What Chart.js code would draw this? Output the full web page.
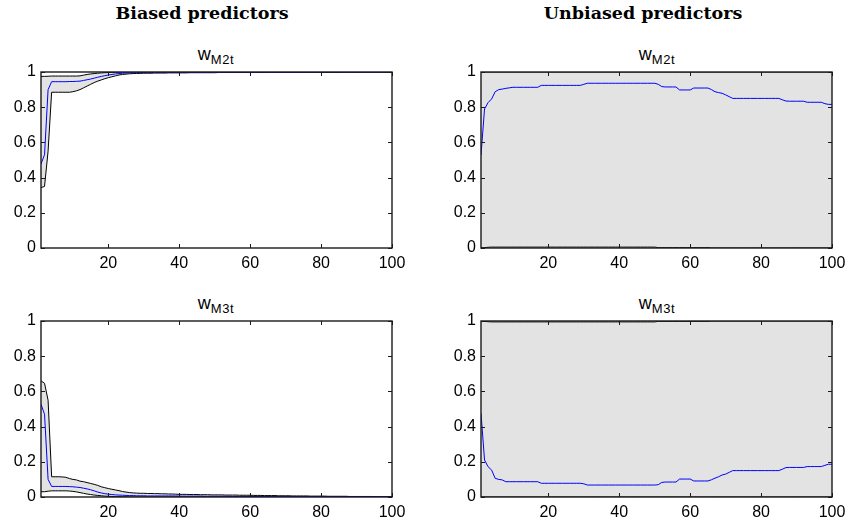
<!DOCTYPE html>
<html>
<head>
<meta charset="utf-8">
<script src="https://cdn.jsdelivr.net/npm/chart.js@4.4.1/dist/chart.umd.min.js"></script>
<style>
  body { margin: 0; background: #fff; width: 850px; height: 521px; position: relative; overflow: hidden; }
  .panel { position: absolute; width: 420px; height: 216px; }
  .suptitle { position: absolute; top: 3px; font: bold 17.5px "DejaVu Serif", serif; transform: translateX(-50%); white-space: nowrap; color: #000; }
  .ptitle { position: absolute; font: 18px "Liberation Sans", Arial, sans-serif; transform: translateX(-50%); white-space: nowrap; color: #000; line-height: 18px; }
  .ptitle sub { font-size: 13px; letter-spacing: 0.6px; position: relative; top: 4px; vertical-align: baseline; }
</style>
</head>
<body>
<div class="suptitle" style="left:202px">Biased predictors</div>
<div class="suptitle" style="left:643px">Unbiased predictors</div>

<div class="ptitle" style="left:216px; top:45px">w<sub>M2t</sub></div>
<div class="ptitle" style="left:657px; top:45px">w<sub>M2t</sub></div>
<div class="ptitle" style="left:216px; top:294px">w<sub>M3t</sub></div>
<div class="ptitle" style="left:657px; top:294px">w<sub>M3t</sub></div>

<div class="panel" style="left:0px; top:62px"><canvas id="biasM2" width="420" height="216"></canvas></div>
<div class="panel" style="left:440px; top:62px"><canvas id="unbiasM2" width="420" height="216"></canvas></div>
<div class="panel" style="left:0px; top:311px"><canvas id="biasM3" width="420" height="216"></canvas></div>
<div class="panel" style="left:440px; top:311px"><canvas id="unbiasM3" width="420" height="216"></canvas></div>

<script>
const t = Array.from({ length: 100 }, (_, i) => i + 1);
const xTicks = [20, 40, 60, 80, 100];
const yTicks = [0, 0.2, 0.4, 0.6, 0.8, 1];

// biased predictors, w_M2t
const biasM2Med = [
  0.477, 0.53, 0.90, 0.945, 0.945, 0.945, 0.945, 0.945, 0.946, 0.946,
  0.947, 0.948, 0.952, 0.956, 0.960, 0.965, 0.970, 0.975, 0.979, 0.983,
  0.986, 0.989, 0.991, 0.993, 0.994, 0.995, 0.996, 0.996, 0.997, 0.997,
  0.997, 0.997, 0.998, 0.998, 0.998, 0.998, 0.998, 0.998, 0.998, 0.998,
  0.998, 0.998, 0.998, 0.998, 0.998, 0.998, 0.998, 0.998, 0.999, 0.999,
  0.999, 0.999, 0.999, 0.999, 0.999, 0.999, 0.999, 0.999, 0.999, 0.999,
  0.999, 0.999, 0.999, 0.999, 0.999, 0.999, 0.999, 0.999, 0.999, 0.999,
  0.999, 0.999, 0.999, 0.999, 0.999, 1.0, 1.0, 1.0, 1.0, 1.0,
  1.0, 1.0, 1.0, 1.0, 1.0, 1.0, 1.0, 1.0, 1.0, 1.0,
  1.0, 1.0, 1.0, 1.0, 1.0, 1.0, 1.0, 1.0, 1.0, 1.0
];
const biasM2Hi = [
  0.975, 0.975, 0.976, 0.977, 0.977, 0.977, 0.977, 0.977, 0.977, 0.977,
  0.977, 0.978, 0.982, 0.986, 0.989, 0.991, 0.993, 0.995, 0.996, 0.997,
  0.998, 0.998, 0.999, 0.999, 0.999, 1.0, 1.0, 1.0, 1.0, 1.0,
  1.0, 1.0, 1.0, 1.0, 1.0, 1.0, 1.0, 1.0, 1.0, 1.0,
  1.0, 1.0, 1.0, 1.0, 1.0, 1.0, 1.0, 1.0, 1.0, 1.0,
  1.0, 1.0, 1.0, 1.0, 1.0, 1.0, 1.0, 1.0, 1.0, 1.0,
  1.0, 1.0, 1.0, 1.0, 1.0, 1.0, 1.0, 1.0, 1.0, 1.0,
  1.0, 1.0, 1.0, 1.0, 1.0, 1.0, 1.0, 1.0, 1.0, 1.0,
  1.0, 1.0, 1.0, 1.0, 1.0, 1.0, 1.0, 1.0, 1.0, 1.0,
  1.0, 1.0, 1.0, 1.0, 1.0, 1.0, 1.0, 1.0, 1.0, 1.0
];
const biasM2Lo = [
  0.343, 0.35, 0.55, 0.885, 0.885, 0.885, 0.885, 0.885, 0.885, 0.888,
  0.893, 0.900, 0.910, 0.920, 0.930, 0.940, 0.948, 0.955, 0.962, 0.968,
  0.973, 0.978, 0.983, 0.986, 0.988, 0.990, 0.991, 0.992, 0.992, 0.993,
  0.993, 0.993, 0.994, 0.994, 0.994, 0.994, 0.995, 0.995, 0.995, 0.995,
  0.995, 0.995, 0.996, 0.996, 0.996, 0.996, 0.996, 0.996, 0.996, 0.996,
  0.997, 0.997, 0.997, 0.997, 0.997, 0.997, 0.997, 0.997, 0.997, 0.997,
  0.997, 0.997, 0.997, 0.997, 0.997, 0.998, 0.998, 0.998, 0.998, 0.998,
  0.998, 0.998, 0.998, 0.998, 0.998, 0.998, 0.998, 0.998, 0.998, 0.998,
  0.998, 0.998, 0.998, 0.998, 0.998, 0.999, 0.999, 0.999, 0.999, 0.999,
  0.999, 0.999, 0.999, 0.999, 0.999, 0.999, 0.999, 0.999, 0.999, 0.999
];

// biased predictors, w_M3t
const biasM3Med = [
  0.527, 0.47, 0.10, 0.06, 0.06, 0.06, 0.06, 0.06, 0.059, 0.058,
  0.056, 0.054, 0.050, 0.046, 0.041, 0.035, 0.028, 0.023, 0.019, 0.016,
  0.014, 0.012, 0.011, 0.010, 0.009, 0.008, 0.008, 0.007, 0.007, 0.007,
  0.006, 0.006, 0.006, 0.006, 0.006, 0.006, 0.006, 0.006, 0.006, 0.005,
  0.005, 0.005, 0.005, 0.005, 0.005, 0.005, 0.004, 0.004, 0.004, 0.004,
  0.004, 0.004, 0.004, 0.004, 0.003, 0.003, 0.003, 0.003, 0.003, 0.003,
  0.003, 0.003, 0.003, 0.003, 0.003, 0.002, 0.002, 0.002, 0.002, 0.002,
  0.002, 0.002, 0.002, 0.002, 0.002, 0.002, 0.002, 0.002, 0.002, 0.002,
  0.001, 0.001, 0.001, 0.001, 0.001, 0.001, 0.001, 0.001, 0.001, 0.001,
  0.001, 0.001, 0.001, 0.001, 0.001, 0.001, 0.001, 0.001, 0.001, 0.001
];
const biasM3Hi = [
  0.66, 0.646, 0.55, 0.115, 0.115, 0.115, 0.114, 0.112, 0.105, 0.100,
  0.097, 0.090, 0.087, 0.082, 0.077, 0.072, 0.066, 0.058, 0.053, 0.048,
  0.044, 0.040, 0.036, 0.031, 0.028, 0.025, 0.023, 0.022, 0.021, 0.021,
  0.020, 0.020, 0.019, 0.019, 0.018, 0.018, 0.017, 0.017, 0.016, 0.015,
  0.015, 0.015, 0.014, 0.014, 0.014, 0.013, 0.013, 0.013, 0.012, 0.012,
  0.012, 0.012, 0.011, 0.011, 0.011, 0.011, 0.010, 0.010, 0.010, 0.010,
  0.009, 0.009, 0.009, 0.008, 0.008, 0.008, 0.008, 0.007, 0.007, 0.007,
  0.007, 0.006, 0.006, 0.006, 0.006, 0.006, 0.005, 0.005, 0.005, 0.005,
  0.005, 0.004, 0.004, 0.004, 0.004, 0.004, 0.004, 0.003, 0.003, 0.003,
  0.003, 0.003, 0.003, 0.003, 0.002, 0.002, 0.002, 0.002, 0.002, 0.002
];
const biasM3Lo = [
  0.03, 0.03, 0.033, 0.035, 0.035, 0.035, 0.035, 0.035, 0.034, 0.032,
  0.029, 0.025, 0.021, 0.017, 0.014, 0.011, 0.009, 0.007, 0.005, 0.004,
  0.003, 0.002, 0.002, 0.001, 0.001, 0.0, 0.0, 0.0, 0.0, 0.0,
  0.0, 0.0, 0.0, 0.0, 0.0, 0.0, 0.0, 0.0, 0.0, 0.0,
  0.0, 0.0, 0.0, 0.0, 0.0, 0.0, 0.0, 0.0, 0.0, 0.0,
  0.0, 0.0, 0.0, 0.0, 0.0, 0.0, 0.0, 0.0, 0.0, 0.0,
  0.0, 0.0, 0.0, 0.0, 0.0, 0.0, 0.0, 0.0, 0.0, 0.0,
  0.0, 0.0, 0.0, 0.0, 0.0, 0.0, 0.0, 0.0, 0.0, 0.0,
  0.0, 0.0, 0.0, 0.0, 0.0, 0.0, 0.0, 0.0, 0.0, 0.0,
  0.0, 0.0, 0.0, 0.0, 0.0, 0.0, 0.0, 0.0, 0.0, 0.0
];

// unbiased predictors, w_M2t
const unbiasM2Med = [
  0.528, 0.79, 0.826, 0.847, 0.888, 0.900, 0.903, 0.907, 0.910, 0.913,
  0.913, 0.913, 0.913, 0.913, 0.913, 0.913, 0.913, 0.924, 0.924, 0.924,
  0.924, 0.924, 0.924, 0.924, 0.924, 0.924, 0.924, 0.924, 0.924, 0.930,
  0.936, 0.936, 0.936, 0.936, 0.936, 0.936, 0.936, 0.936, 0.936, 0.936,
  0.936, 0.936, 0.936, 0.936, 0.936, 0.936, 0.936, 0.936, 0.936, 0.936,
  0.930, 0.917, 0.915, 0.915, 0.915, 0.915, 0.898, 0.898, 0.898, 0.898,
  0.909, 0.909, 0.909, 0.909, 0.909, 0.900, 0.888, 0.883, 0.879, 0.870,
  0.860, 0.850, 0.850, 0.850, 0.850, 0.850, 0.850, 0.850, 0.850, 0.850,
  0.850, 0.850, 0.850, 0.850, 0.850, 0.842, 0.835, 0.834, 0.834, 0.834,
  0.834, 0.834, 0.828, 0.828, 0.828, 0.828, 0.828, 0.820, 0.816, 0.816
];
const unbiasM2Hi = [
  1.0, 1.0, 1.0, 1.0, 1.0, 1.0, 1.0, 1.0, 1.0, 1.0,
  1.0, 1.0, 1.0, 1.0, 1.0, 1.0, 1.0, 1.0, 1.0, 1.0,
  1.0, 1.0, 1.0, 1.0, 1.0, 1.0, 1.0, 1.0, 1.0, 1.0,
  1.0, 1.0, 1.0, 1.0, 1.0, 1.0, 1.0, 1.0, 1.0, 1.0,
  1.0, 1.0, 1.0, 1.0, 1.0, 1.0, 1.0, 1.0, 1.0, 1.0,
  1.0, 1.0, 1.0, 1.0, 1.0, 1.0, 1.0, 1.0, 1.0, 1.0,
  1.0, 1.0, 1.0, 1.0, 1.0, 1.0, 1.0, 1.0, 1.0, 1.0,
  1.0, 1.0, 1.0, 1.0, 1.0, 1.0, 1.0, 1.0, 1.0, 1.0,
  1.0, 1.0, 1.0, 1.0, 1.0, 1.0, 1.0, 1.0, 1.0, 1.0,
  1.0, 1.0, 1.0, 1.0, 1.0, 1.0, 1.0, 1.0, 1.0, 1.0
];
const unbiasM2Lo = [
  0.0, 0.002, 0.004, 0.005, 0.005, 0.005, 0.005, 0.005, 0.005, 0.005,
  0.005, 0.005, 0.005, 0.005, 0.005, 0.005, 0.005, 0.005, 0.005, 0.005,
  0.005, 0.005, 0.005, 0.005, 0.005, 0.005, 0.005, 0.005, 0.005, 0.005,
  0.005, 0.005, 0.005, 0.005, 0.005, 0.005, 0.005, 0.005, 0.005, 0.005,
  0.005, 0.005, 0.005, 0.005, 0.005, 0.005, 0.005, 0.005, 0.005, 0.005,
  0.002, 0.002, 0.002, 0.002, 0.002, 0.002, 0.002, 0.002, 0.002, 0.002,
  0.002, 0.002, 0.002, 0.002, 0.002, 0.0, 0.0, 0.0, 0.0, 0.0,
  0.0, 0.0, 0.0, 0.0, 0.0, 0.0, 0.0, 0.0, 0.0, 0.0,
  0.0, 0.0, 0.0, 0.0, 0.0, 0.0, 0.0, 0.0, 0.0, 0.0,
  0.0, 0.0, 0.0, 0.0, 0.0, 0.0, 0.0, 0.0, 0.0, 0.0
];

// unbiased predictors, w_M3t
const unbiasM3Med = [
  0.475, 0.21, 0.172, 0.153, 0.106, 0.100, 0.097, 0.087, 0.087, 0.087,
  0.087, 0.087, 0.087, 0.087, 0.087, 0.087, 0.087, 0.078, 0.078, 0.078,
  0.078, 0.078, 0.078, 0.078, 0.078, 0.078, 0.078, 0.078, 0.078, 0.075,
  0.068, 0.068, 0.068, 0.068, 0.068, 0.068, 0.068, 0.068, 0.068, 0.068,
  0.068, 0.068, 0.068, 0.068, 0.068, 0.068, 0.068, 0.068, 0.068, 0.068,
  0.070, 0.083, 0.085, 0.085, 0.085, 0.085, 0.102, 0.102, 0.102, 0.102,
  0.091, 0.091, 0.091, 0.091, 0.091, 0.098, 0.107, 0.115, 0.125, 0.130,
  0.140, 0.150, 0.150, 0.150, 0.150, 0.150, 0.150, 0.150, 0.150, 0.150,
  0.150, 0.150, 0.150, 0.150, 0.150, 0.158, 0.167, 0.168, 0.168, 0.168,
  0.168, 0.168, 0.173, 0.173, 0.173, 0.173, 0.173, 0.180, 0.186, 0.186
];
const unbiasM3Hi = [
  1.0, 0.998, 0.996, 0.995, 0.995, 0.995, 0.995, 0.995, 0.995, 0.995,
  0.995, 0.995, 0.995, 0.995, 0.995, 0.995, 0.995, 0.995, 0.995, 0.995,
  0.995, 0.995, 0.995, 0.995, 0.995, 0.995, 0.995, 0.995, 0.995, 0.995,
  0.995, 0.995, 0.995, 0.995, 0.995, 0.995, 0.995, 0.995, 0.995, 0.995,
  0.995, 0.995, 0.995, 0.995, 0.995, 0.995, 0.995, 0.995, 0.995, 0.995,
  0.998, 0.998, 0.998, 0.998, 0.998, 0.998, 0.998, 0.998, 0.998, 0.998,
  0.998, 0.998, 0.998, 0.998, 0.998, 1.0, 1.0, 1.0, 1.0, 1.0,
  1.0, 1.0, 1.0, 1.0, 1.0, 1.0, 1.0, 1.0, 1.0, 1.0,
  1.0, 1.0, 1.0, 1.0, 1.0, 1.0, 1.0, 1.0, 1.0, 1.0,
  1.0, 1.0, 1.0, 1.0, 1.0, 1.0, 1.0, 1.0, 1.0, 1.0
];
const unbiasM3Lo = [
  0.0, 0.0, 0.0, 0.0, 0.0, 0.0, 0.0, 0.0, 0.0, 0.0,
  0.0, 0.0, 0.0, 0.0, 0.0, 0.0, 0.0, 0.0, 0.0, 0.0,
  0.0, 0.0, 0.0, 0.0, 0.0, 0.0, 0.0, 0.0, 0.0, 0.0,
  0.0, 0.0, 0.0, 0.0, 0.0, 0.0, 0.0, 0.0, 0.0, 0.0,
  0.0, 0.0, 0.0, 0.0, 0.0, 0.0, 0.0, 0.0, 0.0, 0.0,
  0.0, 0.0, 0.0, 0.0, 0.0, 0.0, 0.0, 0.0, 0.0, 0.0,
  0.0, 0.0, 0.0, 0.0, 0.0, 0.0, 0.0, 0.0, 0.0, 0.0,
  0.0, 0.0, 0.0, 0.0, 0.0, 0.0, 0.0, 0.0, 0.0, 0.0,
  0.0, 0.0, 0.0, 0.0, 0.0, 0.0, 0.0, 0.0, 0.0, 0.0,
  0.0, 0.0, 0.0, 0.0, 0.0, 0.0, 0.0, 0.0, 0.0, 0.0
];

const bandColor = "#e3e3e3";
const tickFont = { family: "'Liberation Sans', Arial, sans-serif", size: 16 };

// matlab-ish box around the axes with inward ticks on all four sides
const boxPlugin = {
    id: "box",
    afterDatasetsDraw(chart) {
        const { ctx, chartArea: a, scales } = chart;
        ctx.save();
        ctx.strokeStyle = "#1a1a1a";
        ctx.lineWidth = 1;
        ctx.beginPath();
        scales.x.ticks.forEach(tk => {
            const px = Math.round(scales.x.getPixelForValue(tk.value)) + 0.5;
            ctx.moveTo(px, a.bottom); ctx.lineTo(px, a.bottom - 4);
            ctx.moveTo(px, a.top); ctx.lineTo(px, a.top + 4);
        });
        scales.y.ticks.forEach(tk => {
            const py = Math.round(scales.y.getPixelForValue(tk.value)) + 0.5;
            ctx.moveTo(a.left, py); ctx.lineTo(a.left + 4, py);
            ctx.moveTo(a.right, py); ctx.lineTo(a.right - 4, py);
        });
        ctx.stroke();
        ctx.lineWidth = 1.4;
        ctx.strokeRect(a.left, a.top, a.right - a.left, a.bottom - a.top);
        ctx.restore();
    }
};

function noPad(s) {
    s.paddingLeft = 0; s.paddingRight = 0; s.paddingTop = 0; s.paddingBottom = 0;
}

function makePanel(id, med, hi, lo) {
    const ctx = document.getElementById(id).getContext("2d");
    return new Chart(ctx, {
        type: "line",
        data: {
            labels: t,
            datasets: [
                { data: med, borderColor: "#0000ff", borderWidth: 1, pointRadius: 0, fill: false },
                { data: hi, borderColor: "#000", borderWidth: 1, pointRadius: 0, fill: "+1", backgroundColor: bandColor },
                { data: lo, borderColor: "#000", borderWidth: 1, pointRadius: 0, fill: false }
            ]
        },
        options: {
            responsive: false,
            animation: false,
            events: [],
            layout: { padding: { top: 10, right: 28, left: 0, bottom: 0 } },
            plugins: {
                legend: { display: false },
                tooltip: { enabled: false },
                filler: { drawTime: "beforeDatasetsDraw" }
            },
            scales: {
                x: {
                    type: "linear",
                    min: 1,
                    max: 100,
                    afterBuildTicks: s => { s.ticks = xTicks.map(v => ({ value: v })); },
                    afterFit: s => { s.height = 30; noPad(s); },
                    grid: { display: false, drawTicks: false },
                    border: { display: false },
                    ticks: { color: "#000", font: tickFont, padding: 6, maxRotation: 0, callback: v => String(v) }
                },
                y: {
                    min: 0,
                    max: 1,
                    afterBuildTicks: s => { s.ticks = yTicks.map(v => ({ value: v })); },
                    afterFit: s => { s.width = 41; noPad(s); },
                    grid: { display: false, drawTicks: false },
                    border: { display: false },
                    ticks: { color: "#000", font: tickFont, padding: 5, callback: v => String(v) }
                }
            }
        },
        plugins: [boxPlugin]
    });
}

makePanel("biasM2", biasM2Med, biasM2Hi, biasM2Lo);
makePanel("unbiasM2", unbiasM2Med, unbiasM2Hi, unbiasM2Lo);
makePanel("biasM3", biasM3Med, biasM3Hi, biasM3Lo);
makePanel("unbiasM3", unbiasM3Med, unbiasM3Hi, unbiasM3Lo);
</script>
</body>
</html>
